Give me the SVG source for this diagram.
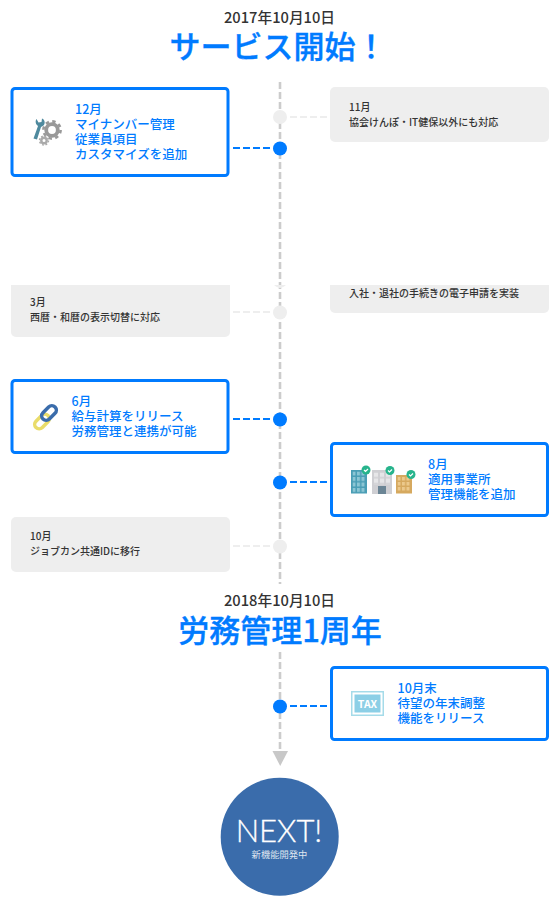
<svg xmlns="http://www.w3.org/2000/svg" width="557" height="909" viewBox="0 0 557 909">
<style>
text{font-family:"Noto Sans CJK JP","Noto Sans",sans-serif}
.date{font-size:14.700px;fill:#333;text-anchor:middle;font-weight:500}
.title{font-size:31px;fill:#007bff;stroke:#007bff;stroke-width:0.350;text-anchor:middle;font-weight:500}
.b{font-size:12.500px;fill:#007bff;font-weight:500}
.g{font-size:10px;fill:#333;font-weight:500}
.cb{fill:#fff;stroke:#007bff;stroke-width:3}
.cg{fill:#eee}
.dot{fill:#007bff}
.gdot{fill:#eee}
.ld{stroke:#007bff;stroke-width:2;stroke-dasharray:7 3;fill:none}
.lg{stroke:#eee;stroke-width:2;stroke-dasharray:7 3;fill:none}
.tl{stroke:#ccc;stroke-width:2.600;stroke-dasharray:7 3;fill:none}
.chk{fill:none;stroke:#fff;stroke-width:1.200}
</style>
<defs>
<pattern id="winT" x="352.500" y="471.500" width="4.500" height="5.500" patternUnits="userSpaceOnUse"><rect width="3" height="4" fill="#8cc6d4"/></pattern>
<pattern id="winG" x="374" y="472.500" width="6" height="6" patternUnits="userSpaceOnUse"><rect width="4" height="4.500" fill="#e6e6e8"/></pattern>
<pattern id="winO" x="397.500" y="477" width="4.500" height="5" patternUnits="userSpaceOnUse"><rect width="3" height="3.500" fill="#ecc98c"/></pattern>
</defs>
<g id="connectors">
<path class="tl" d="M280 82V584M280 652V749"/>
<path class="lg" d="M290 117H327M233 312H270M233 546H270"/>
<path class="ld" d="M233 148H270M233 419H270M290 482H327M290 706H327"/>
<path d="M272.500 751H288L280.200 766Z" fill="#c8c8c8"/>
</g>
<g id="head1"><text class="date" x="279.500" y="23">2017年10月10日</text><text class="title" x="278" y="58">サービス開始！</text></g>
<g id="n-dec"><rect class="cb" x="12" y="88.500" width="216" height="87" rx="3"/>
<g><path d="M33.500 138.500l4.500-12.500c-2.500-1.500-3-5-1.500-7l2 3.500 3-.5 .5-3.500c3 1 3.500 5 1.500 7l-2.500 1.500-4 12.500z" fill="#4f8a9e"/><circle cx="52" cy="130" r="5.800" fill="none" stroke="#999" stroke-width="3.800"/><circle cx="52" cy="130" r="8.600" fill="none" stroke="#999" stroke-width="2.600" stroke-dasharray="3.400 3.350"/><circle cx="44" cy="140.500" r="2.700" fill="none" stroke="#aaa" stroke-width="2.400"/><circle cx="44" cy="140.500" r="4.500" fill="none" stroke="#aaa" stroke-width="1.500" stroke-dasharray="1.800 1.730"/></g>
<text class="b"><tspan x="75" y="114">12月</tspan><tspan x="75" y="129">マイナンバー管理</tspan><tspan x="75" y="144">従業員項目</tspan><tspan x="75" y="159">カスタマイズを追加</tspan></text></g>
<g id="n-nov"><rect class="cg" x="330" y="87" width="219" height="55" rx="5"/><text class="g"><tspan x="349" y="111">11月</tspan><tspan x="349" y="126">協会けんぽ・IT健保以外にも対応</tspan></text></g>
<g id="n-apr"><path class="cg" d="M330 285H549V308a5 5 0 0 1-5 5H335a5 5 0 0 1-5-5Z"/><text class="g" x="349" y="297">入社・退社の手続きの電子申請を実装</text></g>
<g id="n-mar"><path class="cg" d="M11 285H230V332a5 5 0 0 1-5 5H16a5 5 0 0 1-5-5Z"/><text class="g"><tspan x="30" y="306">3月</tspan><tspan x="30" y="321">西暦・和暦の表示切替に対応</tspan></text></g>
<g id="n-jun"><rect class="cb" x="12" y="380.500" width="216" height="72" rx="3"/>
<g fill="none" stroke-width="3.500"><rect x="33.500" y="417" width="17" height="9" rx="4.500" transform="rotate(-45 42 421.500)" stroke="#e9dc6a"/><rect x="40.500" y="408.500" width="17" height="9" rx="4.500" transform="rotate(-45 49 413)" stroke="#3a6cab"/></g>
<text class="b"><tspan x="71.500" y="406">6月</tspan><tspan x="71.500" y="421">給与計算をリリース</tspan><tspan x="71.500" y="436">労務管理と連携が可能</tspan></text></g>
<g id="n-aug"><rect class="cb" x="331.500" y="443.500" width="216" height="72" rx="3"/>
<g><rect x="351" y="470" width="16" height="23.500" fill="#4a9eb5"/><rect x="352.500" y="471.500" width="13" height="21" fill="url(#winT)"/><rect x="372" y="470" width="20" height="24" fill="#cfcfd3"/><rect x="374" y="472.500" width="16" height="12" fill="url(#winG)"/><rect x="378" y="486" width="8" height="8" fill="#6b8595"/><rect x="396" y="475" width="16" height="18.500" fill="#d6a95f"/><rect x="397.500" y="477" width="13" height="15" fill="url(#winO)"/>
<circle cx="366" cy="470" r="4.500" fill="#27b48c"/><circle cx="390" cy="470.500" r="4.500" fill="#27b48c"/><circle cx="411" cy="474.500" r="4.500" fill="#27b48c"/><path class="chk" d="M364 470l1.500 1.500 2.500-2.500M388 470.500l1.500 1.500 2.500-2.500M409 474.500l1.500 1.500 2.500-2.500"/></g>
<text class="b"><tspan x="428" y="469">8月</tspan><tspan x="428" y="484">適用事業所</tspan><tspan x="428" y="499">管理機能を追加</tspan></text></g>
<g id="n-oct"><rect class="cg" x="11" y="517" width="219" height="55" rx="5"/><text class="g"><tspan x="30" y="540">10月</tspan><tspan x="30" y="555">ジョブカン共通IDに移行</tspan></text></g>
<g id="head2"><text class="date" x="279.500" y="606">2018年10月10日</text><text class="title" x="280" y="642">労務管理1周年</text></g>
<g id="n-octend"><rect class="cb" x="331.500" y="667.500" width="216" height="72" rx="3"/>
<g><rect x="351.750" y="691.750" width="31.500" height="23.500" fill="#fff" stroke="#a5dbe9" stroke-width="1.500"/><rect x="354.500" y="694.500" width="26" height="18" fill="#8ccfe6"/><text x="367.500" y="707.500" font-size="10.500" font-weight="700" fill="#fff" text-anchor="middle">TAX</text></g>
<text class="b"><tspan x="397.500" y="693">10月末</tspan><tspan x="397.500" y="708">待望の年末調整</tspan><tspan x="397.500" y="723">機能をリリース</tspan></text></g>
<g id="dots"><circle class="gdot" cx="280" cy="117" r="7"/><circle class="dot" cx="280" cy="148.500" r="7"/><path class="gdot" d="M274 285H286Q280 291 274 285Z"/><circle class="gdot" cx="280" cy="312.500" r="7"/><circle class="dot" cx="280" cy="419.500" r="7"/><circle class="dot" cx="280" cy="482.500" r="7"/><circle class="gdot" cx="280" cy="546.500" r="7"/><circle class="dot" cx="280" cy="706.500" r="7"/></g>
<g id="next"><circle cx="279.700" cy="836.700" r="59" fill="#3a6cab"/><text x="279" y="842" font-size="31" fill="#fff" stroke="#fff" stroke-width="0.300" text-anchor="middle" style="font-family:'Lato',sans-serif;font-weight:300">NEXT!</text><text x="279.500" y="858" font-size="9.300" fill="#dfe6f0" text-anchor="middle">新機能開発中</text></g>
</svg>
